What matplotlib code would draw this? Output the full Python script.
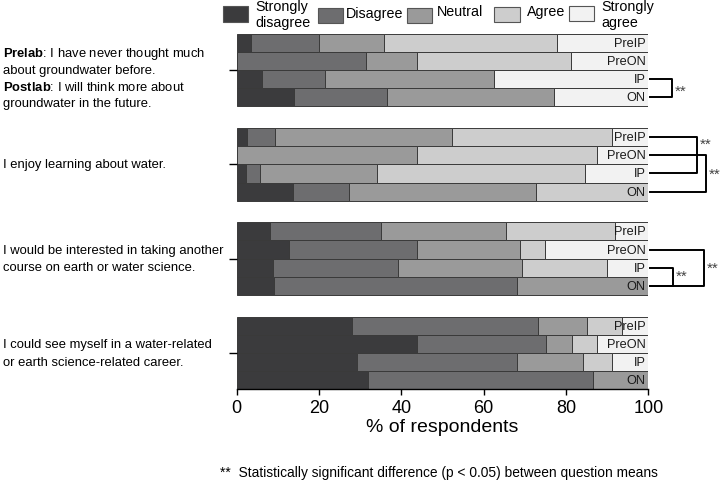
import numpy as np
import matplotlib
matplotlib.use('Agg')
import matplotlib.pyplot as plt
from matplotlib.patches import Rectangle
from matplotlib.transforms import blended_transform_factory

plt.rcParams['font.family'] = ['Liberation Sans', 'DejaVu Sans']
plt.rcParams['mathtext.fontset'] = 'custom'
plt.rcParams['mathtext.rm'] = 'Liberation Sans'
plt.rcParams['mathtext.bf'] = 'Liberation Sans:bold'

# data (percent of respondents), 4 questions x 4 rows
categories = ['Strongly\ndisagree', 'Disagree', 'Neutral', 'Agree', 'Strongly\nagree']
row_labels = ['PreIP', 'PreON', 'IP', 'ON']
questions = [
    ['$\\bf{Prelab}$: I have never thought much', 'about groundwater before.',
     '$\\bf{Postlab}$: I will think more about', 'groundwater in the future.'],
    ['I enjoy learning about water.'],
    ['I would be interested in taking another', 'course on earth or water science.'],
    ['I could see myself in a water-related', 'or earth science-related career.'],
]

strongly_disagree = [3.4, 0, 6.2, 13.8, 2.6, 0, 2.3, 13.6, 8.2, 12.6, 8.7, 9.1, 27.9, 43.9, 29.3, 31.8]
disagree = [16.5, 31.3, 15.2, 22.6, 6.6, 0, 3.4, 13.7, 26.9, 31.1, 30.4, 59.1, 45.4, 31.2, 38.9, 54.7]
neutral = [15.8, 12.4, 41.1, 40.8, 43.0, 43.7, 28.3, 45.4, 30.3, 25.1, 30.3, 31.8, 11.7, 6.3, 16.0, 13.5]
agree = [42.1, 37.5, 0, 0, 39.1, 43.8, 50.5, 27.3, 26.5, 6.2, 20.5, 0, 8.5, 6.2, 7.1, 0]
strongly_agree = [22.2, 18.8, 37.5, 22.8, 8.7, 12.5, 15.5, 0, 8.1, 25.0, 10.1, 0, 6.5, 12.4, 8.7, 0]

# significant pairs: (question, row a, row b)
sig_pairs = [(0, 2, 3), (1, 0, 2), (1, 1, 3), (2, 1, 3), (2, 2, 3)]

colors = ['#3b3b3d', '#6d6d6f', '#9a9a9a', '#cdcdcd', '#f2f2f2']
W, H = 726, 481
gap = 5.2   # group pitch in bar heights

fig = plt.figure(figsize=(W / 100, H / 100), dpi=100)
ax = fig.add_axes([236.7 / W, 91 / H, 411.6 / W, 355 / H])

ypos = np.array([g * gap + i + 0.5 for g in range(4) for i in range(4)])
series = [strongly_disagree, disagree, neutral, agree, strongly_agree]
left = np.zeros(len(ypos))
for vals, c in zip(series, colors):
    vals = np.array(vals)
    ax.barh(ypos, vals, left=left, height=1.0, color=c, edgecolor='#3a3a3a', linewidth=0.7)
    left += vals

for k, y in enumerate(ypos):
    ax.text(99.4, y, row_labels[k % 4], ha='right', va='center', fontsize=9.2, color='#1a1a1a')

ax.set_xlim(0, 100)
ax.set_ylim(4 * 4 + 3 * (gap - 4), 0)
for s in ['top', 'right', 'left']:
    ax.spines[s].set_visible(False)
ax.spines['bottom'].set_linewidth(1.0)
ax.set_xticks([0, 20, 40, 60, 80, 100])
ax.tick_params(axis='x', labelsize=13, length=4, width=1, pad=3)
group_centers = [g * gap + 2 for g in range(4)]
ax.set_yticks(group_centers)
ax.set_yticklabels([])
ax.tick_params(axis='y', length=6, width=1)
ax.set_xlabel('% of respondents', fontsize=14, labelpad=2)

# question text on the left, one line at a time
trans = blended_transform_factory(fig.transFigure, ax.transData)
for g, lines in enumerate(questions):
    step = 0.92 if g == 0 else 0.98
    yc = group_centers[g] + (0.45 if g == 0 else 0)
    y0 = yc - step * (len(lines) - 1) / 2
    for j, ln in enumerate(lines):
        ax.text(3 / W, y0 + j * step, ln, transform=trans, ha='left', va='center',
                fontsize=9.4, clip_on=False)

# significance brackets
btrans = blended_transform_factory(ax.transAxes, ax.transData)
bracket_x = [1.057, 1.118, 1.140, 1.135, 1.059]
star_y = [3.13, 0.88, 2.54, 2.5, 2.96]   # within-group position of the asterisks
for (g, a, b), xv, sy in zip(sig_pairs, bracket_x, star_y):
    ya = g * gap + a + 0.5
    yb = g * gap + b + 0.5
    ax.plot([1.004, xv, xv, 1.004], [ya, ya, yb, yb], color='black', lw=1.4,
            transform=btrans, clip_on=False)
    ax.text(xv + 0.008, g * gap + sy, '**', transform=btrans, ha='left', va='center',
            fontsize=11, color='#444', clip_on=False)

# legend across the top
legend_boxes = [(223, 7, 25, 16), (318, 9, 25, 15), (407, 9, 25, 15), (494, 8, 26, 15), (569, 7, 25, 15)]
legend_text_x = [255, 346, 437, 527, 601]
legend_text_y = [15, 14, 12.5, 12, 15]
for (x0, y0, w, h), tx, ty, lab, c in zip(legend_boxes, legend_text_x, legend_text_y, categories, colors):
    fig.add_artist(Rectangle((x0 / W, 1 - (y0 + h) / H), w / W, h / H, transform=fig.transFigure,
                             facecolor=c, edgecolor='#555', linewidth=0.8))
    fig.text(tx / W, 1 - ty / H, lab, ha='left', va='center', fontsize=10.3, linespacing=1.1)

fig.text(220 / W, 1 - 473 / H,
         '**  Statistically significant difference (p < 0.05) between question means',
         ha='left', va='center', fontsize=9.9)

fig.savefig('out.png', dpi=100)
